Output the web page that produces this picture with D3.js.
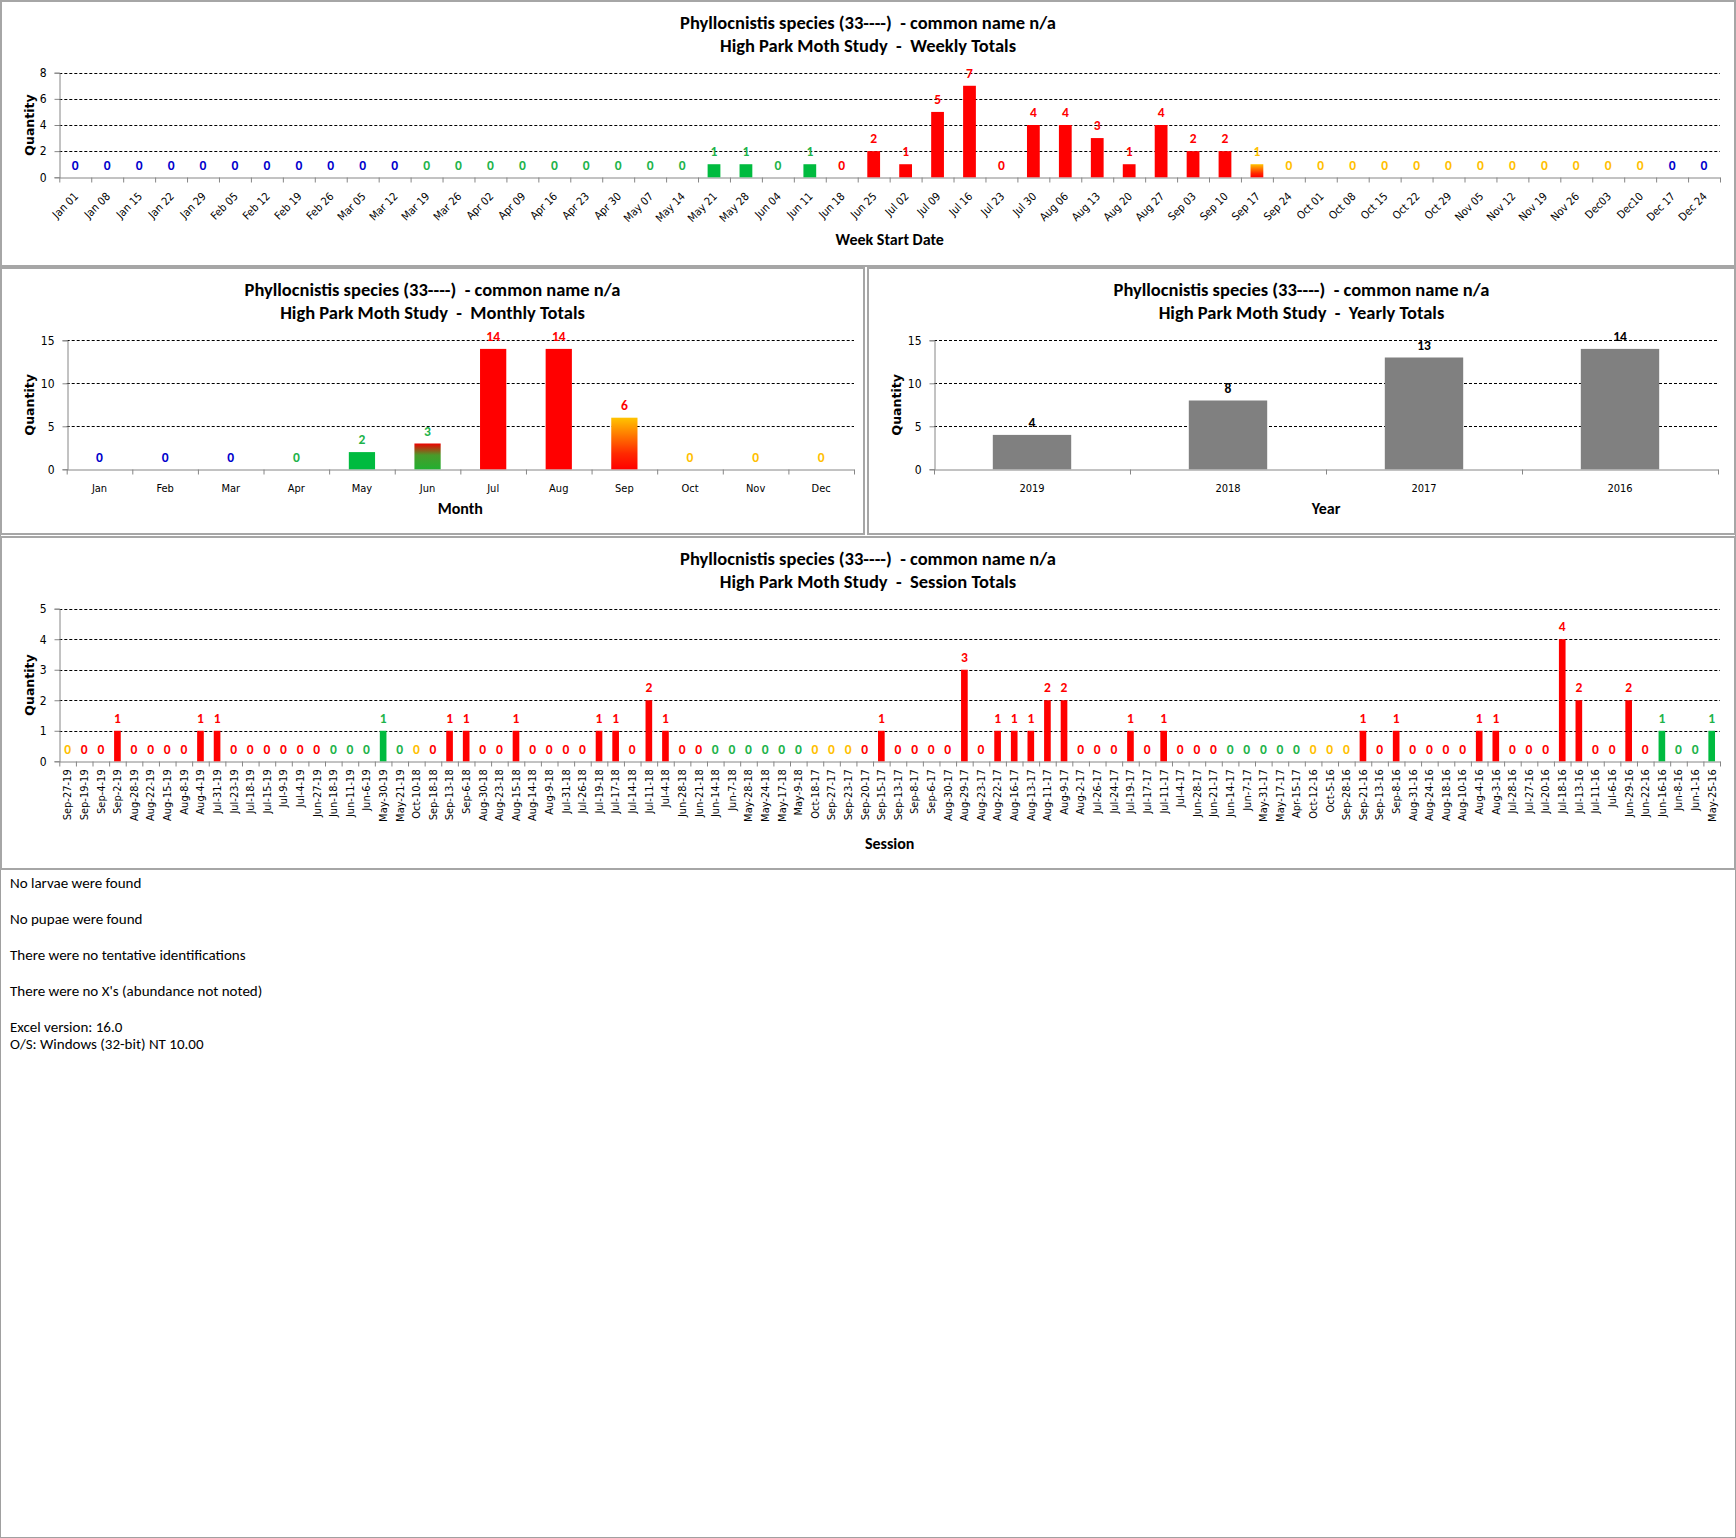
<!DOCTYPE html>
<html>
<head>
<meta charset="utf-8">
<script src="https://cdn.jsdelivr.net/npm/d3@7"></script>
<style>
  body { margin: 0; background: #fff; }
  svg { display: block; }
  .title { font-family: Calibri, Carlito, Lato, sans-serif; font-weight: bold; font-size: 18.5px; fill: #000; white-space: pre; }
  .axis-title { font-family: Calibri, Carlito, Lato, sans-serif; font-weight: bold; font-size: 16px; fill: #000; }
  .qty { font-family: "DejaVu Sans", sans-serif; font-weight: bold; font-size: 12.5px; }
  .tick text { font-family: "DejaVu Sans Condensed", "DejaVu Sans", sans-serif; font-size: 11px; fill: #000; }
  .ytick text { font-size: 12px; }
  .bar-label { font-family: Calibri, Carlito, Lato, sans-serif; font-weight: bold; font-size: 13.5px; }
  .note { font-family: Calibri, Carlito, Lato, sans-serif; font-size: 15px; fill: #000; }
</style>
</head>
<body>
<svg id="sheet" width="1736" height="1538"></svg>
<script>
// ---- data ----------------------------------------------------------
// season codes: w = winter (blue), s = spring (green), u = summer (red),
// f = fall (yellow), su / uf / fu = mixed months, n = neutral (grey)
const weekLabels = ['Jan 01', 'Jan 08', 'Jan 15', 'Jan 22', 'Jan 29', 'Feb 05', 'Feb 12', 'Feb 19', 'Feb 26',
  'Mar 05', 'Mar 12', 'Mar 19', 'Mar 26', 'Apr 02', 'Apr 09', 'Apr 16', 'Apr 23', 'Apr 30', 'May 07', 'May 14',
  'May 21', 'May 28', 'Jun 04', 'Jun 11', 'Jun 18', 'Jun 25', 'Jul 02', 'Jul 09', 'Jul 16', 'Jul 23', 'Jul 30',
  'Aug 06', 'Aug 13', 'Aug 20', 'Aug 27', 'Sep 03', 'Sep 10', 'Sep 17', 'Sep 24', 'Oct 01', 'Oct 08', 'Oct 15',
  'Oct 22', 'Oct 29', 'Nov 05', 'Nov 12', 'Nov 19', 'Nov 26', 'Dec03', 'Dec10', 'Dec 17', 'Dec 24'];
const weekValues = [0, 0, 0, 0, 0, 0, 0, 0, 0, 0, 0,
  0, 0, 0, 0, 0, 0, 0, 0, 0,
  1, 1, 0, 1,
  0, 2, 1, 5, 7, 0, 4, 4, 3, 1, 4, 2, 2,
  1,
  0, 0, 0, 0, 0, 0, 0, 0, 0, 0, 0, 0,
  0, 0];
const weekSeason = ['w', 'w', 'w', 'w', 'w', 'w', 'w', 'w', 'w', 'w', 'w',
  's', 's', 's', 's', 's', 's', 's', 's', 's',
  's', 's', 's', 's',
  'u', 'u', 'u', 'u', 'u', 'u', 'u', 'u', 'u', 'u', 'u', 'u', 'u',
  'fu',
  'f', 'f', 'f', 'f', 'f', 'f', 'f', 'f', 'f', 'f', 'f', 'f',
  'w', 'w'];

const monthLabels = ['Jan', 'Feb', 'Mar', 'Apr', 'May', 'Jun', 'Jul', 'Aug', 'Sep', 'Oct', 'Nov', 'Dec'];
const monthValues = [0, 0, 0, 0, 2, 3, 14, 14, 6, 0, 0, 0];
const monthSeason = ['w', 'w', 'w', 's', 's', 'su', 'u', 'u', 'uf', 'f', 'f', 'f'];

const yearLabels = ['2019', '2018', '2017', '2016'];
const yearValues = [4, 8, 13, 14];
const yearSeason = ['n', 'n', 'n', 'n'];

const sessionLabels = ['Sep-27-19', 'Sep-19-19', 'Sep-4-19', 'Sep-2-19', 'Aug-28-19', 'Aug-22-19', 'Aug-15-19',
  'Aug-8-19', 'Aug-4-19', 'Jul-31-19', 'Jul-23-19', 'Jul-18-19', 'Jul-15-19', 'Jul-9-19', 'Jul-4-19', 'Jun-27-19',
  'Jun-18-19', 'Jun-11-19', 'Jun-6-19', 'May-30-19', 'May-21-19', 'Oct-10-18', 'Sep-18-18', 'Sep-13-18', 'Sep-6-18',
  'Aug-30-18', 'Aug-23-18', 'Aug-15-18', 'Aug-14-18', 'Aug-9-18', 'Jul-31-18', 'Jul-26-18', 'Jul-19-18', 'Jul-17-18',
  'Jul-14-18', 'Jul-11-18', 'Jul-4-18', 'Jun-28-18', 'Jun-21-18', 'Jun-14-18', 'Jun-7-18', 'May-28-18', 'May-24-18',
  'May-17-18', 'May-9-18', 'Oct-18-17', 'Sep-27-17', 'Sep-23-17', 'Sep-20-17', 'Sep-15-17', 'Sep-13-17', 'Sep-8-17',
  'Sep-6-17', 'Aug-30-17', 'Aug-29-17', 'Aug-23-17', 'Aug-22-17', 'Aug-16-17', 'Aug-13-17', 'Aug-11-17', 'Aug-9-17',
  'Aug-2-17', 'Jul-26-17', 'Jul-24-17', 'Jul-19-17', 'Jul-17-17', 'Jul-11-17', 'Jul-4-17', 'Jun-28-17', 'Jun-21-17',
  'Jun-14-17', 'Jun-7-17', 'May-31-17', 'May-17-17', 'Apr-15-17', 'Oct-12-16', 'Oct-5-16', 'Sep-28-16', 'Sep-21-16',
  'Sep-13-16', 'Sep-8-16', 'Aug-31-16', 'Aug-24-16', 'Aug-18-16', 'Aug-10-16', 'Aug-4-16', 'Aug-3-16', 'Jul-28-16',
  'Jul-27-16', 'Jul-20-16', 'Jul-18-16', 'Jul-13-16', 'Jul-11-16', 'Jul-6-16', 'Jun-29-16', 'Jun-22-16', 'Jun-16-16',
  'Jun-8-16', 'Jun-1-16', 'May-25-16'];
const sessionValues = [0, 0, 0, 1, 0, 0, 0, 0, 1, 1,
  0, 0, 0, 0, 0, 0, 0, 0, 0, 1,
  0, 0, 0, 1, 1, 0, 0, 1, 0, 0,
  0, 0, 1, 1, 0, 2, 1, 0, 0, 0,
  0, 0, 0, 0, 0, 0, 0, 0, 0, 1,
  0, 0, 0, 0, 3, 0, 1, 1, 1, 2,
  2, 0, 0, 0, 1, 0, 1, 0, 0, 0,
  0, 0, 0, 0, 0, 0, 0, 0, 1, 0,
  1, 0, 0, 0, 0, 1, 1, 0, 0, 0,
  4, 2, 0, 0, 2, 0, 1, 0, 0, 1];
const sessionSeason = ['f', 'u', 'u', 'u', 'u', 'u', 'u', 'u', 'u', 'u',
  'u', 'u', 'u', 'u', 'u', 'u', 's', 's', 's', 's',
  's', 'f', 'u', 'u', 'u', 'u', 'u', 'u', 'u', 'u',
  'u', 'u', 'u', 'u', 'u', 'u', 'u', 'u', 'u', 's',
  's', 's', 's', 's', 's', 'f', 'f', 'f', 'u', 'u',
  'u', 'u', 'u', 'u', 'u', 'u', 'u', 'u', 'u', 'u',
  'u', 'u', 'u', 'u', 'u', 'u', 'u', 'u', 'u', 'u',
  's', 's', 's', 's', 's', 'f', 'f', 'f', 'u', 'u',
  'u', 'u', 'u', 'u', 'u', 'u', 'u', 'u', 'u', 'u',
  'u', 'u', 'u', 'u', 'u', 'u', 's', 's', 's', 's'];

const weekTicks = [0, 2, 4, 6, 8];
const monthTicks = [0, 5, 10, 15];
const sessionTicks = [0, 1, 2, 3, 4, 5];

const speciesTitle = 'Phyllocnistis species (33----)  - common name n/a';
const notes = ['No larvae were found', 'No pupae were found', 'There were no tentative identifications',
  "There were no X's (abundance not noted)", 'Excel version: 16.0', 'O/S: Windows (32-bit) NT 10.00'];

// ---- colours -------------------------------------------------------
const labelColor = { w: '#0000cc', s: '#1db34a', u: '#ff0000', f: '#ffc000', su: '#1db34a', uf: '#ff0000', fu: '#ffc000', n: '#000' };
const barFill = { w: '#0000cc', s: '#00bb3f', u: '#ff0000', f: '#ffc000', su: 'url(#grad-su)', uf: 'url(#grad-uf)', fu: 'url(#grad-uf)', n: '#808080' };

const svg = d3.select('#sheet');

// gradients for the mixed-season bars
const defs = svg.append('defs');
const gradSU = defs.append('linearGradient').attr('id', 'grad-su').attr('x1', 0).attr('y1', 0).attr('x2', 0).attr('y2', 1);
gradSU.append('stop').attr('offset', '0').attr('stop-color', '#ee0000');
gradSU.append('stop').attr('offset', '0.45').attr('stop-color', '#4a9a2a');
gradSU.append('stop').attr('offset', '1').attr('stop-color', '#22b030');
const gradUF = defs.append('linearGradient').attr('id', 'grad-uf').attr('x1', 0).attr('y1', 0).attr('x2', 0).attr('y2', 1);
gradUF.append('stop').attr('offset', '0').attr('stop-color', '#ffc400');
gradUF.append('stop').attr('offset', '0.7').attr('stop-color', '#ff2800');
gradUF.append('stop').attr('offset', '1').attr('stop-color', '#ff0000');

// sheet frame
svg.append('rect')
  .attr('x', 0.5).attr('y', 0.5).attr('width', 1735).attr('height', 1537)
  .attr('fill', '#fff').attr('stroke', '#a0a0a0');

/**
 * Draw one Excel-style column chart panel
 */
function drawPanel(cfg) {
  const { panel, plot, labels, values, season, ticks } = cfg;
  const g = svg.append('g');

  g.append('rect')
    .attr('x', panel.x).attr('y', panel.y)
    .attr('width', panel.w).attr('height', panel.h)
    .attr('fill', '#fff').attr('stroke', '#a6a6a6').attr('stroke-width', 2);

  // titles
  const cx = panel.x + panel.w / 2;
  g.append('text').attr('class', 'title').attr('text-anchor', 'middle')
    .attr('x', cx).attr('y', panel.y + 28).text(speciesTitle);
  g.append('text').attr('class', 'title').attr('text-anchor', 'middle')
    .attr('x', cx).attr('y', panel.y + 51).text(`High Park Moth Study  -  ${cfg.kind} Totals`);

  const idx = d3.range(labels.length);
  const x = d3.scaleBand().domain(idx).range([plot.x0, plot.x1]).paddingInner(0.6).paddingOuter(0.3);
  const xEdge = d3.scaleLinear().domain([0, labels.length]).range([plot.x0, plot.x1]);
  const y = d3.scaleLinear().domain([0, d3.max(ticks)]).range([plot.y1, plot.y0]);

  // dashed gridlines
  g.append('g').selectAll('line')
    .data(ticks.filter(t => t > 0))
    .join('line')
    .attr('x1', plot.x0).attr('x2', plot.x1)
    .attr('y1', d => Math.round(y(d)) + 0.5).attr('y2', d => Math.round(y(d)) + 0.5)
    .attr('stroke', '#000').attr('stroke-dasharray', '3,2');

  // y axis
  const yAxis = g.append('g').attr('class', 'ytick')
    .attr('transform', `translate(${Math.round(plot.x0) + 0.5},0)`)
    .call(d3.axisLeft(y).tickValues(ticks).tickSize(5).tickPadding(8).tickFormat(d3.format('d')));
  yAxis.selectAll('path, line').attr('stroke', '#868686');

  g.append('text').attr('class', 'qty')
    .attr('transform', `translate(${panel.x + 33},${(plot.y0 + plot.y1) / 2}) rotate(-90)`)
    .attr('text-anchor', 'middle').text('Quantity');

  // x axis line + category boundary ticks
  const xTicks = g.append('g')
    .attr('transform', `translate(0,${Math.round(plot.y1) + 0.5})`)
    .call(d3.axisBottom(xEdge).tickValues(d3.range(labels.length + 1)).tickSize(5).tickSizeOuter(0).tickFormat(''));
  xTicks.selectAll('path, line').attr('stroke', '#868686');

  // category labels
  const xLabels = g.append('g')
    .attr('transform', `translate(0,${plot.y1})`)
    .call(d3.axisBottom(x).tickSize(0).tickFormat(i => labels[i]));
  xLabels.select('.domain').remove();
  const lt = xLabels.selectAll('text').attr('x', 0).attr('y', 0);
  if (cfg.labelMode === 'diag') {
    lt.attr('text-anchor', 'end').attr('dy', '0.35em').attr('transform', 'translate(1,17) rotate(-45)');
  } else if (cfg.labelMode === 'vert') {
    lt.attr('text-anchor', 'end').attr('dy', '0.35em').attr('transform', 'translate(0,8) rotate(-90)');
  } else {
    lt.attr('text-anchor', 'middle').attr('dy', 0).attr('y', 23);
  }

  // bars
  g.append('g').selectAll('rect')
    .data(idx.filter(i => values[i] > 0))
    .join('rect')
    .attr('x', i => x(i)).attr('width', x.bandwidth())
    .attr('y', i => y(values[i])).attr('height', i => y(0) - y(values[i]))
    .attr('fill', i => barFill[season[i]]);

  // data labels
  g.append('g').selectAll('text')
    .data(idx)
    .join('text')
    .attr('class', 'bar-label')
    .attr('text-anchor', 'middle')
    .attr('x', i => x(i) + x.bandwidth() / 2)
    .attr('y', i => y(values[i]) - 12.5)
    .attr('dy', '0.35em')
    .attr('fill', i => labelColor[season[i]])
    .text(i => values[i]);

  g.append('text').attr('class', 'axis-title').attr('text-anchor', 'middle')
    .attr('x', (plot.x0 + plot.x1) / 2).attr('y', cfg.axisTitleY)
    .text(cfg.axisTitle);
}

drawPanel({
  kind: 'Weekly',
  panel: { x: 1, y: 1, w: 1734, h: 265 },
  plot: { x0: 59.3, x1: 1720, y0: 72.7, y1: 177.3 },
  labels: weekLabels, values: weekValues, season: weekSeason, ticks: weekTicks,
  labelMode: 'diag', axisTitle: 'Week Start Date', axisTitleY: 245
});

drawPanel({
  kind: 'Monthly',
  panel: { x: 1, y: 268, w: 863, h: 266 },
  plot: { x0: 66.7, x1: 854, y0: 340.3, y1: 469.3 },
  labels: monthLabels, values: monthValues, season: monthSeason, ticks: monthTicks,
  labelMode: 'flat', axisTitle: 'Month', axisTitleY: 514
});

drawPanel({
  kind: 'Yearly',
  panel: { x: 868, y: 268, w: 867, h: 266 },
  plot: { x0: 934, x1: 1718, y0: 340.3, y1: 469.3 },
  labels: yearLabels, values: yearValues, season: yearSeason, ticks: monthTicks,
  labelMode: 'flat', axisTitle: 'Year', axisTitleY: 514
});

drawPanel({
  kind: 'Session',
  panel: { x: 1, y: 537, w: 1734, h: 332 },
  plot: { x0: 59.3, x1: 1720, y0: 608.7, y1: 761.3 },
  labels: sessionLabels, values: sessionValues, season: sessionSeason, ticks: sessionTicks,
  labelMode: 'vert', axisTitle: 'Session', axisTitleY: 849
});

// notes under the charts
const noteY = [888, 924, 960, 996, 1032, 1049];
svg.append('g').selectAll('text')
  .data(notes)
  .join('text')
  .attr('class', 'note')
  .attr('x', 10)
  .attr('y', (d, i) => noteY[i])
  .text(d => d);
</script>
</body>
</html>
